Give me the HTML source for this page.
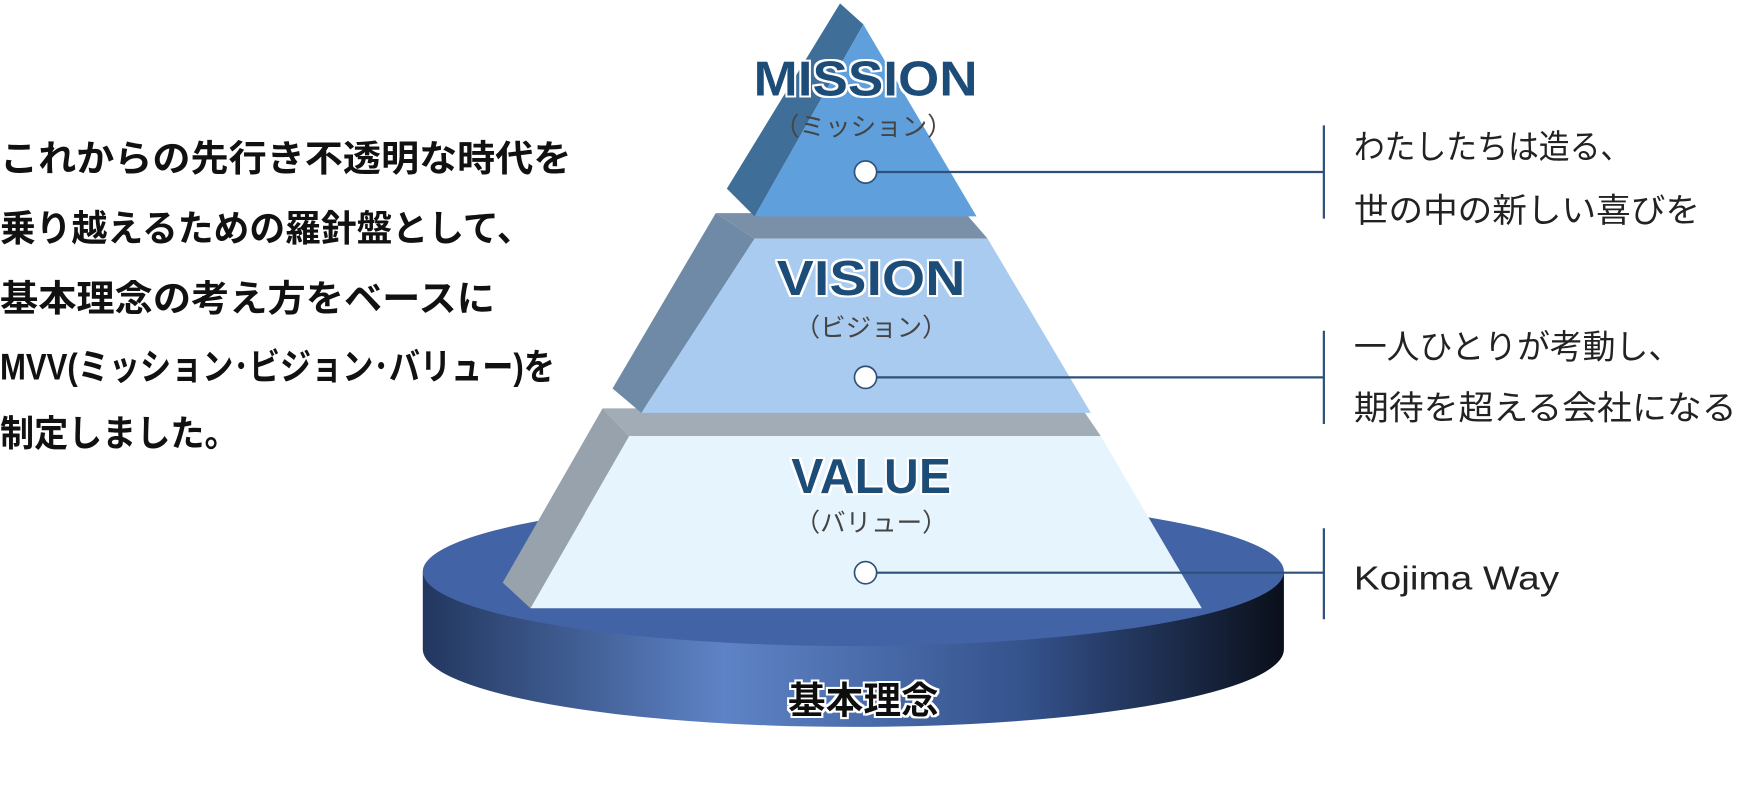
<!DOCTYPE html>
<html><head><meta charset="utf-8"><style>
html,body{margin:0;padding:0;background:#fff;width:1740px;height:788px;overflow:hidden}
svg{display:block}
text{font-family:"Liberation Sans","Noto Sans CJK JP",sans-serif}
</style></head><body>
<svg width="1740" height="788" viewBox="0 0 1568 710" preserveAspectRatio="none" xmlns="http://www.w3.org/2000/svg">
<defs>
<linearGradient id="cyl" x1="0" x2="1" y1="0" y2="0">
<stop offset="0" stop-color="#22375f"/>
<stop offset="0.35" stop-color="#5e83c6"/>
<stop offset="0.7" stop-color="#34528c"/>
<stop offset="1" stop-color="#0a0f1a"/>
</linearGradient>
<filter id="glow"><feMorphology operator="dilate" radius="2" in="SourceAlpha" result="d"/><feFlood flood-color="#fff"/><feComposite in2="d" operator="in" result="w"/><feMerge><feMergeNode in="w"/><feMergeNode in="SourceGraphic"/></feMerge></filter>
</defs>
<path d="M381 515 L381 585 A388 70 0 0 0 1157 585 L1157 515 Z" fill="url(#cyl)"/>
<ellipse cx="769" cy="515" rx="388" ry="67" fill="#4263a5"/>
<polygon points="543,368 975,368 992,393 567,393" fill="#a2acb7"/>
<polygon points="543,368 567,393 478,548 453,525" fill="#98a2ad"/>
<polygon points="567,393 992,393 1083,548 478,548" fill="#e6f4fd"/>
<polygon points="645,192 870,192 890,215 680,215" fill="#7a90a8"/>
<polygon points="645,192 680,215 578,372 552,350" fill="#6f8aa6"/>
<polygon points="680,215 890,215 983,372 578,372" fill="#a8cbef"/>
<polygon points="757,3 778,22 680,195 655,170" fill="#3f6e99"/>
<polygon points="778,22 880,195 680,195" fill="#5fa0dc"/>
<g font-weight="bold" fill="#1f4e79" text-anchor="middle" filter="url(#glow)">
<text x="780" y="86" font-size="44" textLength="202" lengthAdjust="spacingAndGlyphs">MISSION</text>
<text x="785" y="266" font-size="44" textLength="170" lengthAdjust="spacingAndGlyphs">VISION</text>
<text x="785" y="444" font-size="44" textLength="144" lengthAdjust="spacingAndGlyphs">VALUE</text>
</g>
<g fill="#444" text-anchor="middle" font-size="23">
<text x="778" y="122">（ミッション）</text>
<text x="785" y="303">（ビジョン）</text>
<text x="785" y="479">（バリュー）</text>
</g>
<text x="778" y="643" font-size="34" font-weight="bold" fill="#111" text-anchor="middle" filter="url(#glow)">基本理念</text>
<g stroke="#2f5079" stroke-width="2" fill="#fff">
<line x1="790" y1="155" x2="1193" y2="155"/>
<line x1="790" y1="340" x2="1193" y2="340"/>
<line x1="790" y1="516" x2="1193" y2="516"/>
<line x1="1193" y1="113" x2="1193" y2="197"/>
<line x1="1193" y1="298" x2="1193" y2="382"/>
<line x1="1193" y1="476" x2="1193" y2="558"/>
<circle cx="780" cy="155" r="10" stroke-width="1.5"/>
<circle cx="780" cy="340" r="10" stroke-width="1.5"/>
<circle cx="780" cy="516" r="10" stroke-width="1.5"/>
</g>
<g font-size="30" fill="#222">
<text x="1220" y="143" textLength="250" lengthAdjust="spacingAndGlyphs">わたしたちは造る、</text>
<text x="1220" y="200" textLength="312" lengthAdjust="spacingAndGlyphs">世の中の新しい喜びを</text>
<text x="1220" y="323" textLength="295" lengthAdjust="spacingAndGlyphs">一人ひとりが考動し、</text>
<text x="1220" y="378" textLength="345" lengthAdjust="spacingAndGlyphs">期待を超える会社になる</text>
<text x="1220" y="531" textLength="185" lengthAdjust="spacingAndGlyphs">Kojima Way</text>
</g>
<g font-size="33" fill="#111" font-weight="bold">
<text x="0" y="154" textLength="515" lengthAdjust="spacingAndGlyphs">これからの先行き不透明な時代を</text>
<text x="0" y="217" textLength="480" lengthAdjust="spacingAndGlyphs">乗り越えるための羅針盤として、</text>
<text x="0" y="280" textLength="446" lengthAdjust="spacingAndGlyphs">基本理念の考え方をベースに</text>
<text x="0" y="342" textLength="500" lengthAdjust="spacingAndGlyphs">MVV(ミッション･ビジョン･バリュー)を</text>
<text x="0" y="402" textLength="215" lengthAdjust="spacingAndGlyphs">制定しました。</text>
</g>
</svg>
</body></html>
